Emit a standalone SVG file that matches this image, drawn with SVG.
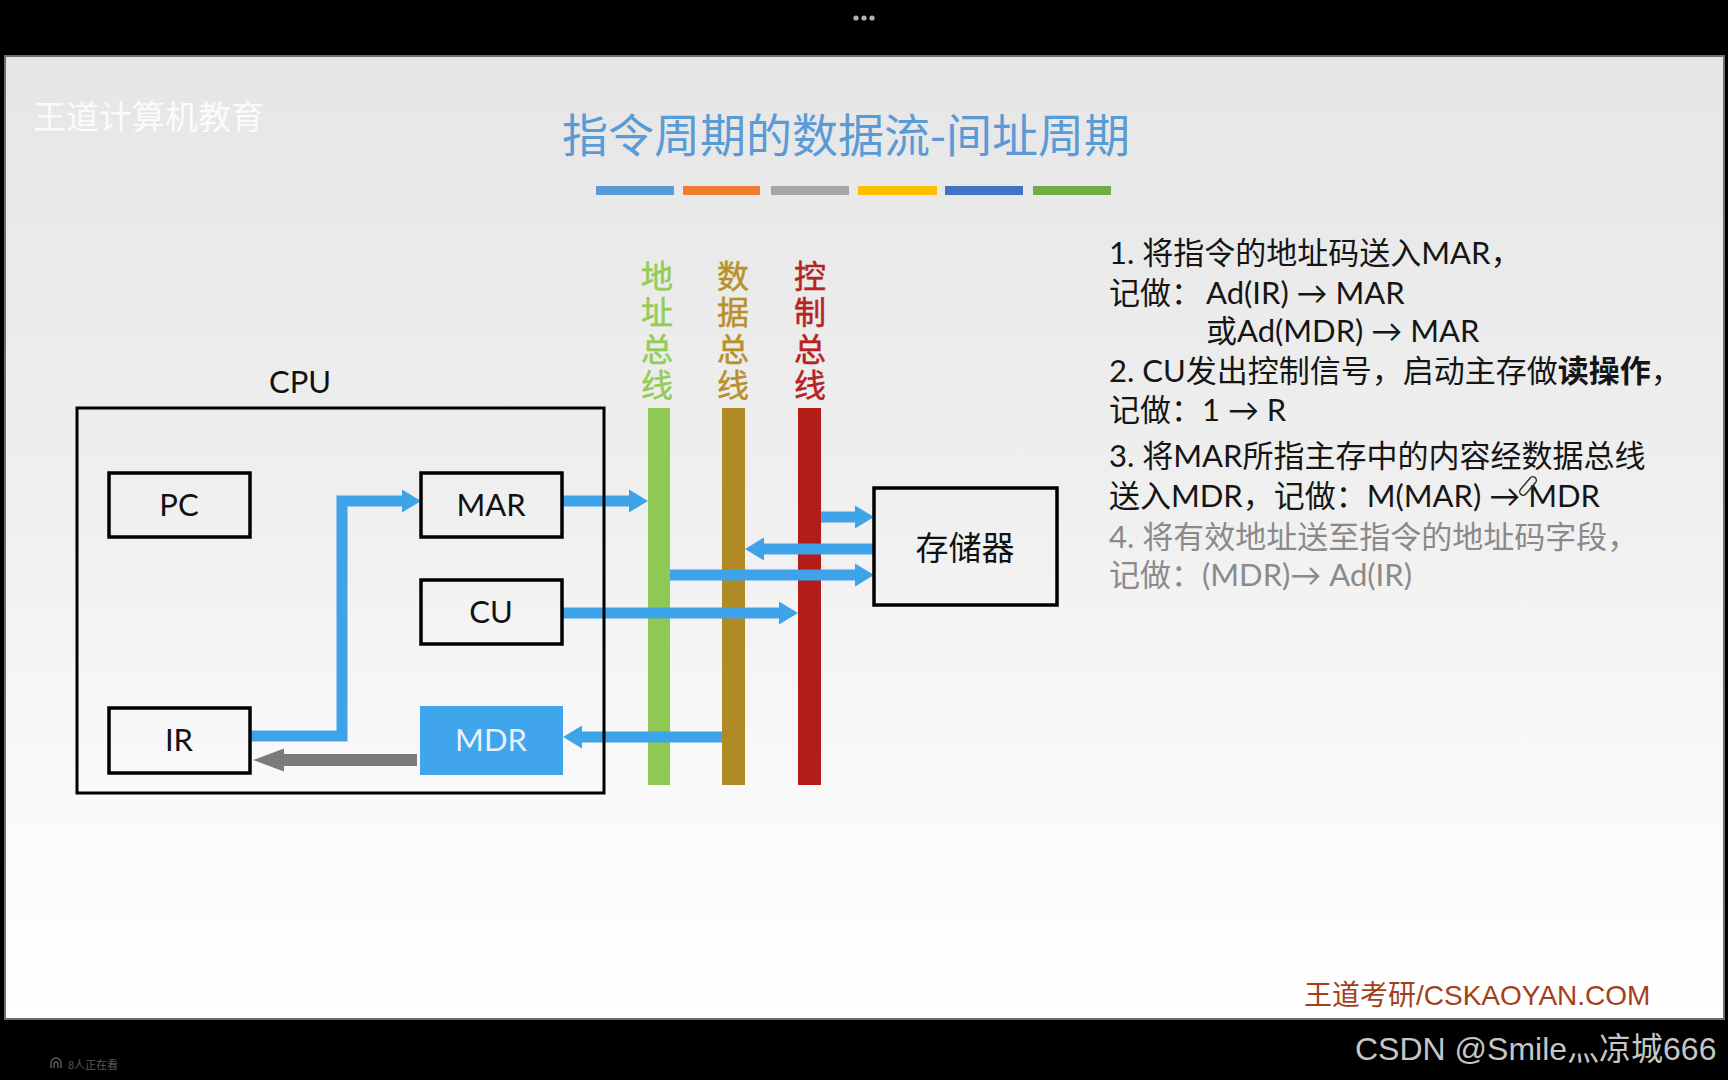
<svg xmlns="http://www.w3.org/2000/svg" width="1728" height="1080" viewBox="0 0 1728 1080">
<defs>
<linearGradient id="bg" x1="0" y1="0" x2="0" y2="1">
<stop offset="0" stop-color="#e6e6e6"/>
<stop offset="0.45" stop-color="#efefef"/>
<stop offset="0.75" stop-color="#f9f9f9"/>
<stop offset="1" stop-color="#ffffff"/>
</linearGradient>
<marker id="hb" markerUnits="userSpaceOnUse" viewBox="0 -12 19 24" markerWidth="19" markerHeight="24" refX="1" refY="0" orient="auto">
<path d="M0,-11.5 L19,0 L0,11.5 Z" fill="#3ea3e8"/>
</marker>
<marker id="hg" markerUnits="userSpaceOnUse" viewBox="0 -12 31 24" markerWidth="31" markerHeight="24" refX="1" refY="0" orient="auto">
<path d="M0,-11.5 L31,0 L0,11.5 Z" fill="#7b7b7b"/>
</marker>
<style>
.box{fill:none;stroke:#000;stroke-width:3.5}
.lbl{font-family:Lato,"Noto Sans CJK SC",sans-serif;font-size:31px;fill:#111;text-anchor:middle}
.bus{font-family:"Noto Sans CJK SC",sans-serif;font-size:32px;writing-mode:vertical-rl;letter-spacing:4.3px;stroke-width:0.5}
.ln{fill:none;stroke:#3ea3e8;stroke-width:11;marker-end:url(#hb)}
.txt{font-family:Lato,"Noto Sans CJK SC",sans-serif;font-size:31px;fill:#151515}
.gry{fill:#8a8a8a}
</style>
</defs>
<rect x="0" y="0" width="1728" height="1080" fill="#000"/>
<g id="topdots" fill="#b0b0b0"><circle cx="856" cy="18" r="2.6"/><circle cx="864" cy="18" r="2.6"/><circle cx="872" cy="18" r="2.6"/></g>
<rect id="slide" x="5" y="56" width="1719" height="963" fill="url(#bg)" stroke="#6e6e6e" stroke-width="2"/>
<text x="33" y="129" font-family="'Noto Sans CJK SC',sans-serif" font-size="33" fill="#ffffff" opacity="0.85">王道计算机教育</text>
<text id="title" x="846" y="152" font-family="'Noto Sans CJK SC',sans-serif" font-size="46" fill="#5b9bd5" text-anchor="middle">指令周期的数据流-间址周期</text>
<g id="colorbars">
<rect x="596" y="186" width="78" height="9" fill="#5b9bd5"/>
<rect x="683" y="186" width="77" height="9" fill="#ed7d31"/>
<rect x="771" y="186" width="78" height="9" fill="#a5a5a5"/>
<rect x="858" y="186" width="79" height="9" fill="#ffc000"/>
<rect x="945" y="186" width="78" height="9" fill="#4472c4"/>
<rect x="1033" y="186" width="78" height="9" fill="#70ad47"/>
</g>
<g id="addr-bus"><rect x="648" y="408" width="22" height="377" fill="#8fc953"/>
<text class="bus" x="657" y="260" fill="#93cc57" stroke="#93cc57">地址总线</text></g>
<g id="data-bus"><rect x="722" y="408" width="23" height="377" fill="#b08a24"/>
<text class="bus" x="733" y="260" fill="#b8902a" stroke="#b8902a">数据总线</text></g>
<g id="ctrl-bus"><rect x="798" y="408" width="23" height="377" fill="#b41c17"/>
<text class="bus" x="810" y="260" fill="#b52323" stroke="#b52323">控制总线</text></g>
<g id="connectors">
<path class="ln" d="M250,736 H342 V501 H403" stroke-linejoin="miter"/>
<path class="ln" d="M562,501 H630"/>
<path class="ln" d="M821,517 H856"/>
<path class="ln" d="M874,549 H763"/>
<path class="ln" d="M670,575 H856"/>
<path class="ln" d="M562,613 H780"/>
<path class="ln" d="M722,737 H581"/>
<path d="M417,760 H283" fill="none" stroke="#7b7b7b" stroke-width="12" marker-end="url(#hg)"/>
</g>
<g id="cpu"><rect x="77" y="408" width="527" height="385" fill="none" stroke="#000" stroke-width="3"/>
<text class="lbl" x="300" y="393" font-size="30">CPU</text></g>
<g id="pc"><rect class="box" x="109" y="473" width="141" height="64"/><text class="lbl" x="179" y="516">PC</text></g>
<g id="mar"><rect class="box" x="421" y="473" width="141" height="64"/><text class="lbl" x="491" y="516">MAR</text></g>
<g id="cu"><rect class="box" x="421" y="580" width="141" height="64"/><text class="lbl" x="491" y="623">CU</text></g>
<g id="ir"><rect class="box" x="109" y="708" width="141" height="65"/><text class="lbl" x="179" y="751">IR</text></g>
<g id="mdr"><rect x="420" y="706" width="143" height="69" fill="#41a5eb"/><text class="lbl" x="491" y="751" style="fill:#e6f1fb">MDR</text></g>
<g id="memory"><rect class="box" x="874" y="488" width="183" height="117"/><text x="965" y="560" font-family="'Noto Sans CJK SC',sans-serif" font-size="33" text-anchor="middle" fill="#111">存储器</text></g>
<g id="notes">
<text class="txt" x="1109" y="264">1. 将指令的地址码送入MAR，</text>
<text class="txt" y="304"><tspan x="1109">记做：</tspan><tspan x="1206">Ad(IR) → MAR</tspan></text>
<text class="txt" x="1206" y="342">或Ad(MDR) → MAR</text>
<text class="txt" x="1109" y="382">2. CU发出控制信号，启动主存做<tspan font-weight="bold">读操作</tspan>，</text>
<text class="txt" x="1109" y="421">记做：1 → R</text>
<text class="txt" x="1109" y="467">3. 将MAR所指主存中的内容经数据总线</text>
<text class="txt" x="1109" y="507">送入MDR，记做：M(MAR) → MDR</text>
<text class="txt gry" x="1109" y="548">4. 将有效地址送至指令的地址码字段，</text>
<text class="txt gry" x="1109" y="586">记做：(MDR)→ Ad(IR)</text>
<g id="pen" fill="none" stroke="#333" stroke-width="1.5"><rect x="-3.5" y="-11" width="7" height="22" rx="3.5" transform="translate(1528,486) rotate(40)"/></g>
</g>
<text id="footer" x="1304" y="1005" font-family="'Liberation Sans','Noto Sans CJK SC',sans-serif" font-size="28" fill="#a3401c">王道考研/CSKAOYAN.COM</text>
<text id="csdn" x="1355" y="1060" font-family="'Liberation Sans','Noto Sans CJK SC',sans-serif" font-size="32" fill="#c6c6c6">CSDN @Smile灬凉城666</text>
<g id="viewers" fill="#5a5a5a"><path d="M51,1068 v-5 a5,5 0 0 1 10,0 v5 M54,1068 v-4 a2,2 0 0 1 4,0 v4" fill="none" stroke="#5a5a5a" stroke-width="1.5"/>
<text x="68" y="1069" font-family="'Noto Sans CJK SC',sans-serif" font-size="11">8人正在看</text></g>
</svg>
